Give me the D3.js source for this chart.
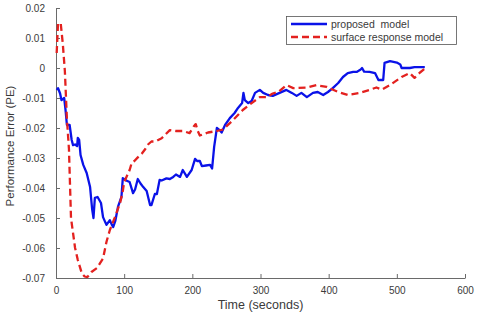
<!DOCTYPE html>
<html>
<head>
<meta charset="utf-8">
<script src="https://cdn.jsdelivr.net/npm/d3@7"></script>
<style>
  html, body { margin: 0; padding: 0; background: #fff; }
  svg { display: block; font-family: Arial, "Liberation Sans", Helvetica, sans-serif; }
</style>
</head>
<body>
<svg id="chart" width="480" height="315"></svg>
<script>
// ---- data ----
const seriesNames = ["proposed  model", "surface response model"];

const proposedTime = [1,3,6,8,12,14,16,20,23,25,28,31,32,34,36,40,45,50,53,55,57,61,66,69,74,79,82,84,87,91,96,98,103,108,113,116,120,124,128,133,138,140,145,148,152,155,162,167,172,176,182,186,192,199,204,207,211,214,220,226,229,232,236,240,243,248,255,262,267,273,275,277,282,287,292,299,304,311,318,328,338,346,353,360,368,377,384,392,399,406,414,421,428,436,441,447,449,452,460,468,473,480,482,490,500,505,507,519,526,541];
const proposedPE = [-0.0073,-0.0067,-0.0085,-0.0107,-0.0100,-0.0140,-0.0190,-0.0190,-0.0240,-0.0257,-0.0255,-0.0260,-0.0233,-0.0240,-0.0290,-0.0323,-0.0350,-0.0397,-0.0470,-0.0500,-0.0433,-0.0430,-0.0450,-0.0497,-0.0523,-0.0507,-0.0523,-0.0530,-0.0510,-0.0462,-0.0430,-0.0367,-0.0375,-0.0380,-0.0417,-0.0405,-0.0370,-0.0385,-0.0397,-0.0410,-0.0457,-0.0457,-0.0420,-0.0420,-0.0373,-0.0375,-0.0368,-0.0370,-0.0363,-0.0355,-0.0363,-0.0340,-0.0363,-0.0340,-0.0303,-0.0310,-0.0310,-0.0327,-0.0325,-0.0323,-0.0335,-0.0263,-0.0200,-0.0207,-0.0215,-0.0190,-0.0167,-0.0150,-0.0133,-0.0117,-0.0083,-0.0107,-0.0117,-0.0110,-0.0083,-0.0073,-0.0083,-0.0090,-0.0093,-0.0083,-0.0073,-0.0083,-0.0093,-0.0083,-0.0097,-0.0083,-0.0080,-0.0090,-0.0080,-0.0067,-0.0050,-0.0030,-0.0017,-0.0013,-0.0013,-0.0005,0.0000,-0.0012,-0.0013,-0.0017,-0.0040,-0.0040,0.0017,0.0023,0.0018,0.0012,0.0000,0.0000,0.0003,0.0003];

const surfaceTime = [1,3,7,10,13,16,19,22,28,32,38,42,46,52,60,69,74,79,86,94,98,100,104,108,111,115,120,126,131,135,140,146,155,167,176,186,196,202,205,208,211,223,236,245,260,274,287,299,309,318,326,338,348,368,382,397,414,428,446,460,470,478,490,507,519,526,534,544];
const surfacePE = [0.0050,0.0150,0.0147,0.0080,-0.0010,-0.0170,-0.0270,-0.0500,-0.0600,-0.0640,-0.0685,-0.0695,-0.0697,-0.0680,-0.0667,-0.0635,-0.0580,-0.0540,-0.0500,-0.0450,-0.0410,-0.0380,-0.0360,-0.0340,-0.0317,-0.0310,-0.0298,-0.0285,-0.0270,-0.0255,-0.0245,-0.0245,-0.0234,-0.0207,-0.0210,-0.0210,-0.0217,-0.0195,-0.0187,-0.0210,-0.0225,-0.0215,-0.0210,-0.0205,-0.0173,-0.0140,-0.0117,-0.0097,-0.0097,-0.0085,-0.0080,-0.0057,-0.0067,-0.0065,-0.0057,-0.0063,-0.0080,-0.0090,-0.0083,-0.0073,-0.0065,-0.0072,-0.0057,-0.0030,-0.0017,-0.0033,-0.0015,0.0003];

const xTicks = [0,100,200,300,400,500,600];
const xTickLabels = ["0","100","200","300","400","500","600"];
const yTicks = [0.02,0.01,0,-0.01,-0.02,-0.03,-0.04,-0.05,-0.06,-0.07];
const yTickLabels = ["0.02","0.01","0","-0.01","-0.02","-0.03","-0.04","-0.05","-0.06","-0.07"];

const xTitle = "Time (seconds)";
const yTitle = "Performance Error (PE)";

// ---- layout ----
const svg = d3.select("#chart");
const plotLeft = 56, plotRight = 465, plotTop = 8, plotBottom = 278;
const blue = "#0a12e8", red = "#e3211f", axisColor = "#6a6a6a", textColor = "#3a3a3a";

const x = d3.scaleLinear().domain([0, 600]).range([plotLeft, plotRight]);
const y = d3.scaleLinear().domain([-0.07, 0.02]).range([plotBottom, plotTop]);

svg.append("rect").attr("width", 480).attr("height", 315).attr("fill", "#fff");

// axes
const xAxis = d3.axisBottom(x).tickValues(xTicks)
  .tickFormat((d, i) => xTickLabels[i]).tickSizeInner(-4).tickSizeOuter(0).tickPadding(9);
const yAxis = d3.axisLeft(y).tickValues(yTicks)
  .tickFormat((d, i) => yTickLabels[i]).tickSizeInner(-4).tickSizeOuter(0).tickPadding(11);

const gx = svg.append("g").attr("transform", `translate(0,${plotBottom})`).call(xAxis);
const gy = svg.append("g").attr("transform", `translate(${plotLeft},0)`).call(yAxis);
[gx, gy].forEach(g => {
  g.select(".domain").attr("stroke", axisColor).attr("stroke-width", 1);
  g.selectAll(".tick line").attr("stroke", axisColor).attr("stroke-width", 1);
  g.selectAll(".tick text").attr("fill", textColor).style("font-size", "10px")
    .style("font-family", "Arial, 'Liberation Sans', sans-serif");
});

// titles
svg.append("text").attr("x", (plotLeft + plotRight) / 2).attr("y", 309)
  .attr("text-anchor", "middle").attr("fill", textColor).style("font-size", "12.5px").text(xTitle);
svg.append("text").attr("transform", `translate(14,${(plotTop + plotBottom) / 2 + 3}) rotate(-90)`)
  .attr("text-anchor", "middle").attr("fill", textColor).style("font-size", "11.5px").text(yTitle);

// lines
const line = d3.line().x(d => x(d[0])).y(d => y(d[1]));
const proposed = proposedTime.map((t, i) => [t, proposedPE[i]]);
const surface = surfaceTime.map((t, i) => [t, surfacePE[i]]);

svg.append("path").datum(proposed).attr("d", line)
  .attr("fill", "none").attr("stroke", blue).attr("stroke-width", 2.3).attr("stroke-linejoin", "round");
svg.append("path").datum(surface).attr("d", line)
  .attr("fill", "none").attr("stroke", red).attr("stroke-width", 2.3)
  .attr("stroke-dasharray", "7,4").attr("stroke-linejoin", "round");

// legend
const lg = svg.append("g");
lg.append("rect").attr("x", 286.5).attr("y", 16.5).attr("width", 170).attr("height", 28)
  .attr("fill", "#fff").attr("stroke", "#555").attr("stroke-width", 0.8);
const legendRows = [
  { name: seriesNames[0], color: blue, dash: null, y: 24 },
  { name: seriesNames[1], color: red, dash: "7,4", y: 37 }
];
legendRows.forEach(r => {
  lg.append("line").attr("x1", 291).attr("x2", 327).attr("y1", r.y).attr("y2", r.y)
    .attr("stroke", r.color).attr("stroke-width", 2.3).attr("stroke-dasharray", r.dash);
  lg.append("text").attr("x", 331).attr("y", r.y).attr("dy", "0.35em")
    .attr("fill", textColor).style("font-size", "10.5px").style("white-space", "pre").text(r.name);
});
</script>
</body>
</html>
